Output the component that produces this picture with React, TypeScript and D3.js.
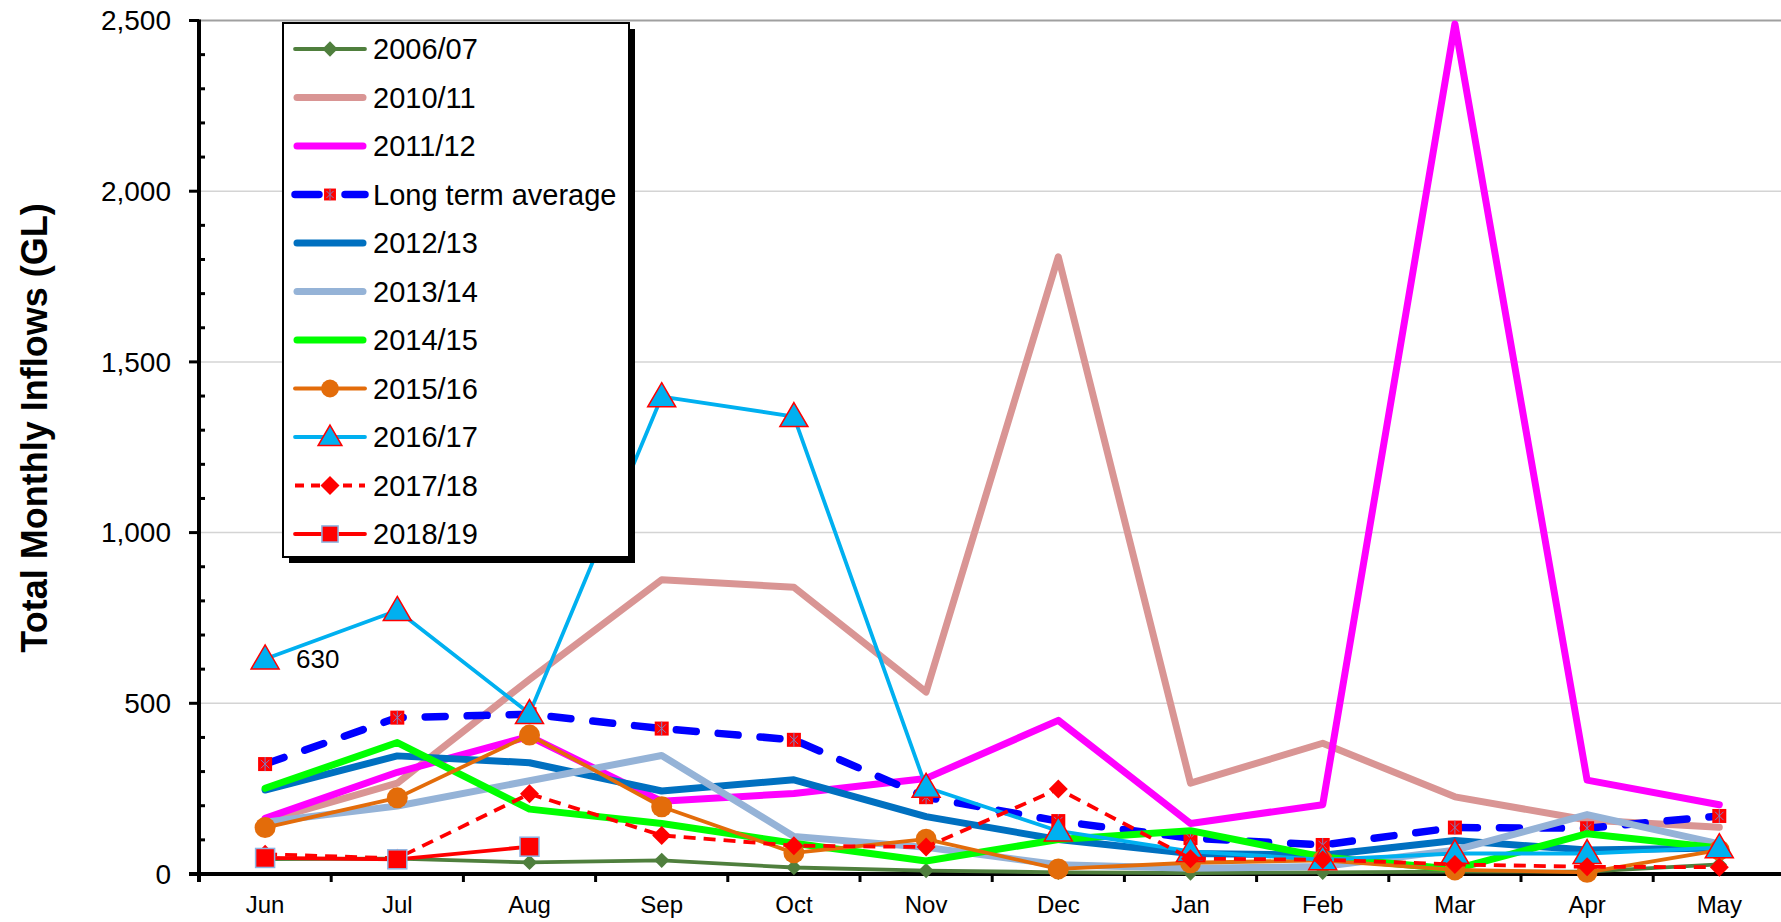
import React from "react";
import * as d3 from "d3";

const months = ["Jun", "Jul", "Aug", "Sep", "Oct", "Nov", "Dec", "Jan", "Feb", "Mar", "Apr", "May"];
const yTicks = [0, 500, 1000, 1500, 2000, 2500];

const s2006 = [44, 45, 34, 40, 19, 10, 5, 3, 5, 7, 7, 28];
const s2010 = [155, 266, 570, 862, 840, 533, 1808, 266, 383, 226, 158, 137];
const s2011 = [163, 298, 403, 213, 236, 280, 450, 148, 203, 2490, 275, 203];
const sLta = [322, 458, 468, 426, 393, 225, 155, 105, 85, 136, 134, 170];
const s2012 = [246, 346, 326, 243, 276, 168, 101, 60, 55, 98, 70, 76];
const s2013 = [152, 199, 273, 347, 110, 78, 27, 17, 22, 70, 174, 88];
const s2014 = [251, 385, 190, 148, 90, 38, 101, 127, 50, 14, 118, 76];
const s2015 = [136, 223, 407, 197, 62, 102, 15, 33, 40, 12, 5, 70];
const s2016 = [630, 772, 470, 1398, 1340, 254, 126, 66, 42, 60, 60, 77];
const s2017 = [58, 46, 235, 113, 83, 79, 249, 45, 42, 28, 21, 20];
const s2018 = [47, 43, 80, null, null, null, null, null, null, null, null, null];

type Series = {
  name: string;
  values: (number | null)[];
  color: string;
  width: number;
  dash?: string;
  cap?: string;
  marker?: string;
};

const series: Series[] = [
  { name: "2006/07", values: s2006, color: "#4f7f3d", width: 3.8, marker: "smallDiamond" },
  { name: "2010/11", values: s2010, color: "#d99594", width: 7 },
  { name: "2011/12", values: s2011, color: "#ff00ff", width: 7 },
  { name: "Long term average", values: sLta, color: "#0000ff", width: 7.5, dash: "20 22", cap: "round", marker: "ltaSquare" },
  { name: "2012/13", values: s2012, color: "#0070c0", width: 7 },
  { name: "2013/14", values: s2013, color: "#95b3d7", width: 7 },
  { name: "2014/15", values: s2014, color: "#00ff00", width: 7 },
  { name: "2015/16", values: s2015, color: "#e36c0a", width: 3.8, marker: "circle" },
  { name: "2016/17", values: s2016, color: "#00b0f0", width: 3.8, marker: "triangle" },
  { name: "2017/18", values: s2017, color: "#ff0000", width: 3.8, dash: "12 8", marker: "diamond" },
  { name: "2018/19", values: s2018, color: "#ff0000", width: 3.8, marker: "square" },
];

function drawMarker(g: any, kind: string, cx: number, cy: number, k: number) {
  if (kind === "smallDiamond") {
    g.append("path")
      .attr("d", d3.symbol(d3.symbolDiamond2, 150 * k * k)())
      .attr("transform", `translate(${cx},${cy})`)
      .attr("fill", "#4f7f3d");
  } else if (kind === "ltaSquare") {
    const h = 7 * k;
    g.append("rect")
      .attr("x", cx - h).attr("y", cy - h)
      .attr("width", 2 * h).attr("height", 2 * h)
      .attr("fill", "#ff0000");
    const a = h * 0.6;
    g.append("path")
      .attr("d", `M${cx - a},${cy - a}L${cx + a},${cy + a}M${cx - a},${cy + a}L${cx + a},${cy - a}M${cx},${cy - h}L${cx},${cy + h}`)
      .attr("stroke", "#7f7fbf")
      .attr("stroke-width", 1);
  } else if (kind === "circle") {
    g.append("circle").attr("cx", cx).attr("cy", cy).attr("r", 10.5 * k).attr("fill", "#e36c0a");
  } else if (kind === "triangle") {
    const s = 14 * k;
    g.append("path")
      .attr("d", `M${cx},${cy - s}L${cx + s},${cy + s * 0.72}L${cx - s},${cy + s * 0.72}Z`)
      .attr("fill", "#00b0f0")
      .attr("stroke", "#ff0000")
      .attr("stroke-width", 1.5)
      .attr("stroke-linejoin", "miter");
  } else if (kind === "diamond") {
    g.append("path")
      .attr("d", d3.symbol(d3.symbolDiamond2, 230 * k * k)())
      .attr("transform", `translate(${cx},${cy})`)
      .attr("fill", "#ff0000");
  } else if (kind === "square") {
    const h = 9.5 * k;
    g.append("rect")
      .attr("x", cx - h).attr("y", cy - h)
      .attr("width", 2 * h).attr("height", 2 * h)
      .attr("fill", "#ff0000")
      .attr("stroke", "#8db4e2")
      .attr("stroke-width", 1.5);
  }
}

export default function App() {
  const ref = React.useRef<SVGSVGElement>(null);

  React.useEffect(() => {
    const width = 1781;
    const height = 922;
    const left = 199;
    const bottom = 874;
    const top = 20.5;
    const step = 132.2;
    const font = "'Liberation Sans', Arial, sans-serif";

    const svg = d3.select(ref.current);
    svg.selectAll("*").remove();
    svg.attr("width", width).attr("height", height).attr("viewBox", [0, 0, width, height]);

    const x = d3.scaleBand().domain(months).range([left, left + step * months.length]);
    const y = d3.scaleLinear().domain([0, 2500]).range([bottom, top]);
    const cx = (m: string) => (x(m) as number) + x.bandwidth() / 2;

    // gridlines
    svg.append("g")
      .selectAll("line")
      .data(yTicks.filter((t) => t > 0))
      .join("line")
      .attr("x1", left)
      .attr("x2", width)
      .attr("y1", (d) => y(d))
      .attr("y2", (d) => y(d))
      .attr("stroke", (d) => (d === 2500 ? "#a0a0a0" : "#d4d4d4"))
      .attr("stroke-width", (d) => (d === 2500 ? 2 : 1.5));

    // axes
    const axis = svg.append("g").attr("stroke", "#000");
    axis.append("line").attr("x1", left).attr("x2", left).attr("y1", top - 1).attr("y2", bottom + 8).attr("stroke-width", 4);
    axis.append("line").attr("x1", left - 10).attr("x2", width).attr("y1", bottom).attr("y2", bottom).attr("stroke-width", 4);
    axis.selectAll(".major")
      .data(yTicks)
      .join("line")
      .attr("x1", left - 10)
      .attr("x2", left)
      .attr("y1", (d) => y(d))
      .attr("y2", (d) => y(d))
      .attr("stroke-width", 3);
    axis.selectAll(".minor")
      .data(d3.range(100, 2500, 100).filter((d) => d % 500 !== 0))
      .join("line")
      .attr("x1", left)
      .attr("x2", left + 6)
      .attr("y1", (d) => y(d))
      .attr("y2", (d) => y(d))
      .attr("stroke-width", 3);
    axis.selectAll(".xtick")
      .data(months.slice(1))
      .join("line")
      .attr("x1", (d) => x(d) as number)
      .attr("x2", (d) => x(d) as number)
      .attr("y1", bottom)
      .attr("y2", bottom + 8)
      .attr("stroke-width", 3);

    svg.append("g")
      .attr("font-family", font)
      .attr("font-size", 28)
      .attr("text-anchor", "end")
      .selectAll("text")
      .data(yTicks)
      .join("text")
      .attr("x", 171)
      .attr("y", (d) => y(d))
      .attr("dy", "0.35em")
      .text((d) => d3.format(",")(d));

    svg.append("g")
      .attr("font-family", font)
      .attr("font-size", 24)
      .attr("text-anchor", "middle")
      .selectAll("text")
      .data(months)
      .join("text")
      .attr("x", (d) => cx(d))
      .attr("y", 913)
      .text((d) => d);

    svg.append("text")
      .attr("transform", "translate(47,428) rotate(-90)")
      .attr("font-family", font)
      .attr("font-size", 36)
      .attr("font-weight", "bold")
      .attr("text-anchor", "middle")
      .text("Total Monthly Inflows (GL)");

    // series
    for (const s of series) {
      const pts = months
        .map((m, i) => ({ m, v: s.values[i] }))
        .filter((p) => p.v != null) as { m: string; v: number }[];
      const line = d3.line<{ m: string; v: number }>()
        .x((p) => cx(p.m))
        .y((p) => y(p.v));
      const g = svg.append("g");
      g.append("path")
        .attr("d", line(pts))
        .attr("fill", "none")
        .attr("stroke", s.color)
        .attr("stroke-width", s.width)
        .attr("stroke-linejoin", "round")
        .attr("stroke-linecap", s.dash && !s.cap ? "butt" : "round")
        .attr("stroke-dasharray", s.dash || null);
      if (s.marker) {
        for (const p of pts) drawMarker(g, s.marker, cx(p.m), y(p.v), 1);
      }
    }

    // data label
    svg.append("text")
      .attr("x", cx("Jun") + 31)
      .attr("y", y(s2016[0]))
      .attr("dy", "0.35em")
      .attr("font-family", font)
      .attr("font-size", 26)
      .text(d3.format(",")(s2016[0]));

    // legend
    const lx = 283;
    const ly = 23;
    const lw = 346;
    const lh = 534;
    const leg = svg.append("g");
    leg.append("rect").attr("x", lx + 6).attr("y", ly + 6).attr("width", lw).attr("height", lh).attr("fill", "#000");
    leg.append("rect").attr("x", lx).attr("y", ly).attr("width", lw).attr("height", lh)
      .attr("fill", "#fff").attr("stroke", "#000").attr("stroke-width", 2);
    series.forEach((s, i) => {
      const yy = ly + 26 + i * 48.5;
      const g = leg.append("g");
      g.append("line")
        .attr("x1", s.marker ? 295 : 297).attr("x2", s.marker ? 365 : 363)
        .attr("y1", yy).attr("y2", yy)
        .attr("stroke", s.color)
        .attr("stroke-width", s.width)
        .attr("stroke-linecap", s.dash && !s.cap ? "butt" : "round")
        .attr("stroke-dasharray", s.dash ? (s.cap ? "24 26" : "9 7") : null);
      if (s.marker) drawMarker(g, s.marker, 330, yy, s.marker.includes("iamond") ? 1 : 0.85);
      g.append("text")
        .attr("x", 373)
        .attr("y", yy)
        .attr("dy", "0.36em")
        .attr("font-family", font)
        .attr("font-size", 29)
        .text(s.name);
    });
  }, []);

  return <svg ref={ref} style={{ position: "absolute", left: 0, top: 0 }}></svg>;
}
